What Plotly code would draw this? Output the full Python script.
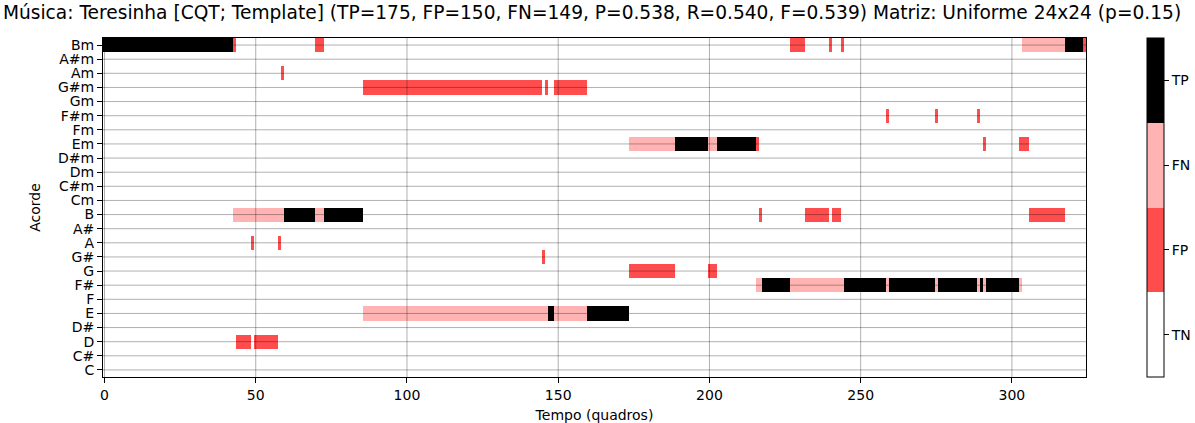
import numpy as np
import plotly.graph_objects as go

CHORDS = ['C', 'C#', 'D', 'D#', 'E', 'F', 'F#', 'G', 'G#', 'A', 'A#', 'B',
          'Cm', 'C#m', 'Dm', 'D#m', 'Em', 'Fm', 'F#m', 'Gm', 'G#m', 'Am', 'A#m', 'Bm']
N_FRAMES = 325
STATUS_LABELS = ['TN', 'FP', 'FN', 'TP']
STATUS_COLORS = ['#ffffff', '#ff4d4d', '#ffb3b3', '#000000']
X_TICKS = [0, 50, 100, 150, 200, 250, 300]

# (chord, first frame, last frame)
TP_SEGMENTS = [('Bm', 0, 42), ('B', 60, 69), ('B', 73, 85), ('E', 147, 148), ('E', 160, 173),
               ('Em', 189, 199), ('Em', 203, 215), ('F#', 218, 226), ('F#', 245, 258),
               ('F#', 260, 274), ('F#', 276, 288), ('F#', 290, 290), ('F#', 292, 302),
               ('Bm', 318, 323)]
FN_SEGMENTS = [('B', 43, 59), ('B', 70, 72), ('E', 86, 146), ('E', 149, 159),
               ('Em', 174, 188), ('Em', 200, 202), ('F#', 216, 217), ('F#', 227, 244),
               ('F#', 259, 259), ('F#', 275, 275), ('F#', 289, 289), ('F#', 291, 291),
               ('F#', 303, 303), ('Bm', 304, 317)]
FP_SEGMENTS = [('Bm', 43, 43), ('Bm', 70, 72), ('Bm', 227, 231), ('Bm', 240, 240),
               ('Bm', 244, 244), ('Bm', 324, 324), ('Am', 59, 59), ('G#m', 86, 144),
               ('G#m', 146, 146), ('G#m', 149, 159), ('F#m', 259, 259), ('F#m', 275, 275),
               ('F#m', 289, 289), ('Em', 216, 216), ('Em', 291, 291), ('Em', 303, 305),
               ('B', 217, 217), ('B', 232, 239), ('B', 241, 243), ('B', 306, 317),
               ('A', 49, 49), ('A', 58, 58), ('G#', 145, 145), ('G', 174, 188),
               ('G', 200, 202), ('D', 44, 48), ('D', 50, 57)]

TITLE = ('Música: Teresinha [CQT; Template] (TP=175, FP=150, FN=149, P=0.538, R=0.540, '
         'F=0.539) Matriz: Uniforme 24x24 (p=0.15)')

z = np.zeros((len(CHORDS), N_FRAMES))
for code, segs in ((1, FP_SEGMENTS), (2, FN_SEGMENTS), (3, TP_SEGMENTS)):
    for chord, a, b in segs:
        z[CHORDS.index(chord), a:b + 1] = code

cs = []
n = len(STATUS_COLORS)
for i, c in enumerate(STATUS_COLORS):
    cs.append([i / n, c])
    cs.append([(i + 1) / n, c])

font = 'DejaVu Sans, Verdana, sans-serif'
FS = 14

fig = go.Figure(go.Heatmap(
    z=z, x=list(range(N_FRAMES)), y=list(range(len(CHORDS))),
    colorscale=cs, zmin=-0.5, zmax=3.5,
    colorbar=dict(
        tickvals=[0, 1, 2, 3], ticktext=STATUS_LABELS,
        x=(1147 - 103) / 983, xanchor='left', xref='paper', y=0.5, yanchor='middle',
        len=1.0, lenmode='fraction',
        thickness=17, thicknessmode='pixels', outlinewidth=1, outlinecolor='black',
        ticks='outside', ticklen=5, tickwidth=1, tickcolor='black',
        tickfont=dict(family=font, size=FS, color='black'), xpad=0, ypad=0,
    ),
    hoverinfo='skip',
))

shapes = []
grid_color = 'rgba(0,0,0,0.31)'
for xv in X_TICKS:
    shapes.append(dict(type='line', xref='x', yref='paper', x0=xv, x1=xv, y0=0, y1=1,
                       line=dict(color=grid_color, width=1), layer='above'))
for yi in range(len(CHORDS)):
    shapes.append(dict(type='line', xref='paper', yref='y', x0=0, x1=1, y0=yi, y1=yi,
                       line=dict(color=grid_color, width=1), layer='above'))

fig.update_layout(
    width=1195, height=423,
    margin=dict(l=103, r=109, t=38, b=46, autoexpand=False),
    paper_bgcolor='white', plot_bgcolor='white',
    font=dict(family=font, size=FS, color='black'),
    title=dict(text=TITLE, x=594.5 / 1195, xanchor='center', xref='paper',
               y=1 - 12 / 423, yanchor='middle', yref='container',
               font=dict(family=font, size=18.6, color='black')),
    shapes=shapes,
    xaxis=dict(range=[-0.5, N_FRAMES - 0.5], tickvals=X_TICKS, ticks='outside', ticklen=5,
               tickwidth=1, tickcolor='black', showgrid=False, zeroline=False,
               showline=True, linecolor='black', linewidth=1, mirror=True,
               title=dict(text='Tempo (quadros)', standoff=9, font=dict(size=FS)),
               tickfont=dict(size=FS)),
    yaxis=dict(range=[-0.5, len(CHORDS) - 0.5], tickvals=list(range(len(CHORDS))),
               ticktext=CHORDS, ticks='outside', ticklen=5, tickwidth=1, tickcolor='black',
               showgrid=False, zeroline=False, showline=True, linecolor='black', linewidth=1,
               mirror=True, title=dict(text='Acorde', standoff=14, font=dict(size=FS)),
               tickfont=dict(size=FS)),
)

fig.write_html('out.html')
